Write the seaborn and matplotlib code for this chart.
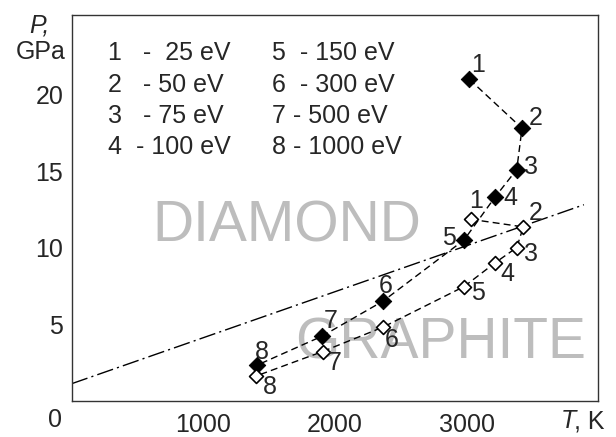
import numpy as np
import pandas as pd
import matplotlib
matplotlib.use('Agg')
import matplotlib.pyplot as plt
import seaborn as sns

# dados
point_ids = ['1', '2', '3', '4', '5', '6', '7', '8']
energy_labels = ['1   -  25 eV', '2   - 50 eV', '3   - 75 eV', '4  - 100 eV',
                 '5  - 150 eV', '6  - 300 eV', '7 - 500 eV', '8 - 1000 eV']

T_filled = [3020, 3420, 3380, 3215, 2980, 2365, 1900, 1405]
P_filled = [21.0, 17.8, 15.1, 13.3, 10.5, 6.5, 4.2, 2.3]

T_open = [3030, 3430, 3380, 3215, 2980, 2365, 1905, 1400]
P_open = [11.85, 11.35, 10.0, 9.0, 7.45, 4.8, 3.2, 1.6]

# linha de equilíbrio diamante/grafite
T_line = [0, 3890]
P_line = [1.1, 12.8]

x_ticks = [1000, 2000, 3000]
y_ticks = [5, 10, 15, 20]

df_f = pd.DataFrame({'T': T_filled, 'P': P_filled, 'id': point_ids})
df_o = pd.DataFrame({'T': T_open, 'P': P_open, 'id': point_ids})

sns.set_style('white')
plt.rcParams['font.family'] = ['Liberation Sans', 'DejaVu Sans']
FS = 18

fig = plt.figure(figsize=(6.16, 4.37), dpi=100)
ax = fig.add_axes([0.1164, 0.0835, 0.855, 0.882])

# textos de fundo
ax.text(1635, 11.4, 'DIAMOND', fontsize=41, color='#bdbdbd', ha='center', va='center', zorder=0)
ax.text(2805, 3.7, 'GRAPHITE', fontsize=41, color='#bdbdbd', ha='center', va='center', zorder=0)

sns.lineplot(x=T_line, y=P_line, ax=ax, color='black', lw=1,
             zorder=2).lines[-1].set_dashes((12, 3, 1.5, 3))

sns.lineplot(data=df_f, x='T', y='P', sort=False, estimator=None, ax=ax,
             color='black', lw=1, zorder=2).lines[-1].set_dashes((5, 3))
sns.lineplot(data=df_o, x='T', y='P', sort=False, estimator=None, ax=ax,
             color='black', lw=1, zorder=2).lines[-1].set_dashes((5, 3))

sns.scatterplot(data=df_f, x='T', y='P', marker='D', s=70, color='black',
                edgecolor='black', ax=ax, zorder=3)
sns.scatterplot(data=df_o, x='T', y='P', marker='D', s=50, facecolor='white',
                edgecolor='black', linewidth=1.2, ax=ax, zorder=3)

# rótulos dos pontos (deslocamentos em pixels)
off_f = [(9, 14), (14, 10), (14, 3), (15, -1), (-15, 2), (3, 15), (9, 15), (5, 13)]
off_o = [(5, 18), (12, 14), (14, -6), (12, -11), (14, -6), (9, -13), (12, -11), (14, -11)]
for i, lab in enumerate(point_ids):
    ax.annotate(lab, (T_filled[i], P_filled[i]), xytext=off_f[i], textcoords='offset pixels',
                ha='center', va='center', fontsize=FS, zorder=4)
    ax.annotate(lab, (T_open[i], P_open[i]), xytext=off_o[i], textcoords='offset pixels',
                ha='center', va='center', fontsize=FS, zorder=4)

# legenda em texto
leg_x = [108, 270]
for i, lab in enumerate(energy_labels):
    col = i // 4
    row = i % 4
    y_px = 53 + row * 31.5
    fig.text((leg_x[col] + (0 if col == 0 else 2)) / 616, 1 - y_px / 437, lab,
             fontsize=FS, ha='left', va='center')

ax.set_xlim(0, 4000)
ax.set_ylim(0, 25.2)
ax.set_xticks(x_ticks)
ax.set_yticks(y_ticks)
ax.tick_params(direction='in', length=10, width=1.3, color='#808080',
               labelsize=FS, pad=6)
ax.tick_params(axis='x', pad=9)
ax.set_xlabel('')
ax.set_ylabel('')
for s in ax.spines.values():
    s.set_color('#333333')
    s.set_linewidth(1)

fig.text(55 / 616, 1 - 420 / 437, '0', fontsize=FS, ha='center', va='center')
fig.text(561 / 616, 1 - 421 / 437, 'T', fontsize=FS, style='italic', ha='left', va='center')
fig.text(574 / 616, 1 - 421 / 437, ', K', fontsize=FS, ha='left', va='center')
fig.text(29 / 616, 1 - 26 / 437, 'P,', fontsize=FS, style='italic', ha='left', va='center')
fig.text(66 / 616, 1 - 52 / 437, 'GPa', fontsize=FS, ha='right', va='center')

if ax.get_legend() is not None:
    ax.get_legend().remove()

fig.savefig('out.png', dpi=100)
